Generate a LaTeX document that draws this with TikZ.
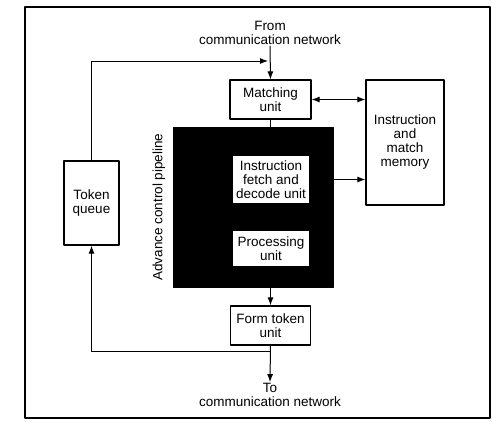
\documentclass[tikz,border=0pt]{standalone}
\usepackage{fontspec}
\setmainfont{Liberation Sans}
\usetikzlibrary{arrows.meta}

\begin{document}
\begin{tikzpicture}[x=1pt, y=-1pt, line join=round,
    txt/.style={font=\fontsize{13.5}{14}\selectfont, align=center, inner sep=1pt},
    unit/.style={txt, draw, line width=1.2pt, fill=white},
    arr/.style={line width=1pt, -{Latex[length=8pt,width=6pt]}},
    dblarr/.style={line width=1pt, {Latex[length=8pt,width=6pt]}-{Latex[length=8pt,width=6pt]}}]
  \useasboundingbox (0,0) rectangle (492,421); % same box as the reference

  % --- outer frame ---
  \draw[line width=1.5pt] (25,7) rectangle (490,418);

  % --- advance control pipeline (black block) ---
  \node[draw, fill=black, minimum width=160pt, minimum height=160pt, inner sep=0pt] (pipe) at (253,207) {};
  \node[txt, rotate=90] (pipelbl) at (159,207) {Advance control pipeline};
  \node[unit, minimum width=78pt, minimum height=49pt] (fetch) at (271,179.5) {Instruction\\fetch and\\decode unit};
  \node[unit, minimum width=78pt, minimum height=37pt] (proc)  at (271,248.5) {Processing\\unit};

  % --- units around it ---
  \node[unit, minimum width=81pt, minimum height=39pt]  (match) at (270.5,99.5) {Matching\\unit};
  \node[unit, minimum width=78pt, minimum height=125pt] (mem)   at (405,142.5)  {Instruction\\and\\match\\memory};
  \node[unit, minimum width=55pt, minimum height=84pt]  (token) at (91.5,203)   {Token\\queue};
  \node[unit, minimum width=80pt, minimum height=39pt]  (form)  at (270.5,325.5) {Form token\\unit};

  % --- network ends ---
  \node[txt] (from) at (270,33)  {From\\communication network};
  \node[txt] (to)   at (270,395) {To\\communication network};
  \coordinate (tin)   at (268,61);
  \coordinate (split) at (270.5,351);

  % --- connectors ---
  \draw[arr] (from.south) -- (match.north);
  \draw[arr] (token.north) |- (tin);
  \draw[dblarr] (match.east) -- (match.east -| mem.west);
  \draw[line width=1pt] (match.south) -- (match.south |- pipe.north);
  \draw[arr] (pipe.east |- fetch) -- (mem.west |- fetch);
  \draw[arr] (form.north |- pipe.south) -- (form.north);
  \draw[arr] (form.south) -- (to.north);
  \draw[arr] (split) -| (token.south);
\end{tikzpicture}
\end{document}
